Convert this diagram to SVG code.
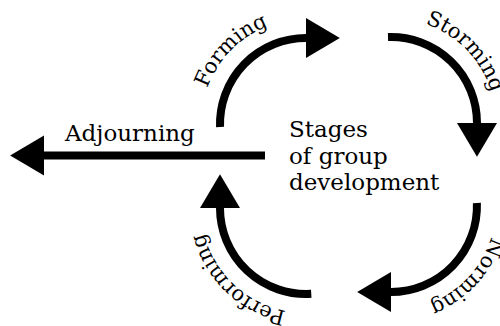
<svg xmlns="http://www.w3.org/2000/svg" width="500" height="326" viewBox="0 0 500 326">
<style>
.arc{fill:none;stroke:#000;stroke-width:8}
.lbl{font-family:"DejaVu Serif","Liberation Serif",serif;font-size:23px;fill:#000}
.cl{font-family:"DejaVu Serif","Liberation Serif",serif;font-size:21px;fill:#000}
</style>
<defs>
<marker id="ah" markerUnits="userSpaceOnUse" markerWidth="34" markerHeight="40" viewBox="0 0 33 39" refX="0" refY="19.5" orient="auto" overflow="visible">
<path d="M0,0 L33,19.5 L0,39 Z" fill="#000"/>
</marker>
<path id="pForming" d="M207.3,88.1 A105,105 0 0 1 358.5,33.1"/>
<path id="pStorming" d="M425.2,23.7 A105,105 0 0 1 489.7,158.9"/>
<path id="pNorming" d="M491.4,236.7 A105,105 0 0 1 338.5,296.9"/>
<path id="pPerforming" d="M286.0,311.1 A105,105 0 0 1 207.3,172.1"/>
</defs>
<rect width="500" height="326" fill="#fff"/>
<g id="connectors">
<path class="arc" d="M220.05,127 A86,86 0 0 1 306,38" marker-end="url(#ah)"/>
<path class="arc" d="M388,37 A86,86 0 0 1 477,123" marker-end="url(#ah)"/>
<path class="arc" d="M476.9,203 A86,86 0 0 1 391,292" marker-end="url(#ah)"/>
<path class="arc" d="M311.25,293.8 A86,86 0 0 1 220,208" marker-end="url(#ah)"/>
<path class="arc" d="M265,155.5 L44,155.5" marker-end="url(#ah)"/>
</g>
<g id="center">
<text class="lbl" x="289" y="137">Stages</text>
<text class="lbl" x="289" y="163.5">of group</text>
<text class="lbl" x="289" y="190">development</text>
</g>
<g id="forming"><text class="cl"><textPath href="#pForming">Forming</textPath></text></g>
<g id="storming"><text class="cl"><textPath href="#pStorming">Storming</textPath></text></g>
<g id="norming"><text class="cl"><textPath href="#pNorming">Norming</textPath></text></g>
<g id="performing"><text class="cl"><textPath href="#pPerforming">Performing</textPath></text></g>
<g id="adjourning"><text class="lbl" x="65" y="141">Adjourning</text></g>
</svg>
